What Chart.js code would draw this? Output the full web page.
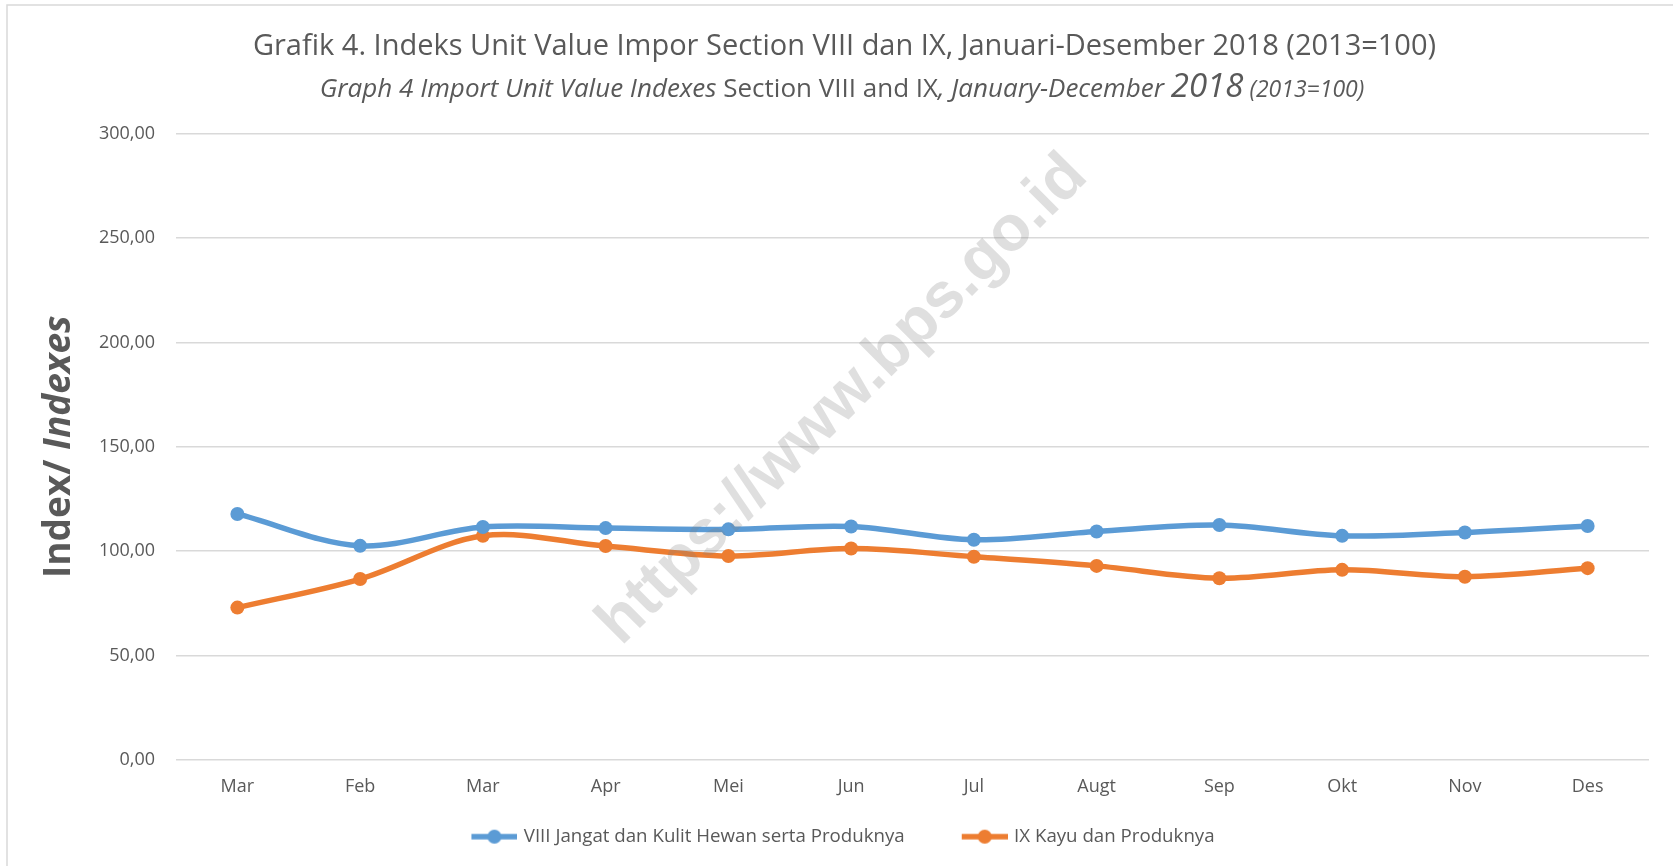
<!DOCTYPE html>
<html lang="id">
<head>
<meta charset="UTF-8">
<title>Grafik 4. Indeks Unit Value Impor Section VIII dan IX</title>
<style>
    html, body { margin: 0; padding: 0; background: #fff; }
    #chartBox { width: 1673px; height: 866px; }
</style>
</head>
<body>
<div id="chartBox">
    <canvas id="importChart" width="1673" height="866"></canvas>
</div>

<script src="https://cdn.jsdelivr.net/npm/chart.js"></script>
<script>
// data
const months = ['Mar', 'Feb', 'Mar', 'Apr', 'Mei', 'Jun', 'Jul', 'Augt', 'Sep', 'Okt', 'Nov', 'Des'];
const section8 = [117.8, 102.5, 111.5, 111.0, 110.4, 111.8, 105.4, 109.4, 112.5, 107.3, 108.9, 112.0];
const section9 = [72.9, 86.6, 107.3, 102.4, 97.6, 101.2, 97.3, 92.9, 87.0, 91.0, 87.7, 91.8];
const seriesNames = ['VIII Jangat dan Kulit Hewan serta Produknya', 'IX Kayu dan Produknya'];
const yTicks = { min: 0, max: 300, step: 50 };

const FONT = "'Open Sans', sans-serif";
const TEXT = '#595959';
const BLUE = '#5B9BD5';
const ORANGE = '#ED7D31';

// legend marker: short line with a dot, like excel (left part kept empty as spacing)
function lineMarker(color) {
    const c = document.createElement('canvas');
    c.width = 92; c.height = 16;
    const g = c.getContext('2d');
    g.strokeStyle = color;
    g.lineWidth = 5.5;
    g.beginPath(); g.moveTo(46, 8); g.lineTo(92, 8); g.stroke();
    g.fillStyle = color;
    g.beginPath(); g.arc(69, 8, 7, 0, Math.PI * 2); g.fill();
    return c;
}
const markers = [lineMarker(BLUE), lineMarker(ORANGE)];

// subtitle has mixed italic / normal parts
const subtitleParts = [
    { text: 'Graph 4 Import Unit Value Indexes', font: 'italic 26px ' + FONT },
    { text: ' Section VIII and IX', font: '26px ' + FONT },
    { text: ', January-December ', font: 'italic 26px ' + FONT },
    { text: '2018', font: 'italic 33px ' + FONT },
    { text: ' (2013=100)', font: 'italic 23px ' + FONT }
];
const yTitleParts = [
    { text: 'Index/ ', font: 'bold 37px ' + FONT },
    { text: 'Indexes', font: 'italic bold 37px ' + FONT }
];

function drawParts(ctx, parts, cx, y) {
    let total = 0;
    parts.forEach(p => { ctx.font = p.font; total += ctx.measureText(p.text).width; });
    let x = cx - total / 2;
    parts.forEach(p => {
        ctx.font = p.font;
        ctx.fillText(p.text, x, y);
        x += ctx.measureText(p.text).width;
    });
}

const decor = {
    id: 'decor',
    afterLayout(chart) {
        // empty part of the first marker pushes the legend right, pull it back
        chart.legend.left -= 23;
        chart.legend.right -= 23;
    },
    beforeDraw(chart) {
        const ctx = chart.ctx;
        ctx.save();
        ctx.fillStyle = '#fff';
        ctx.fillRect(0, 0, chart.width, chart.height);
        ctx.strokeStyle = '#D9D9D9';
        ctx.lineWidth = 1.5;
        ctx.strokeRect(7, 5, chart.width + 50, chart.height + 50);
        ctx.restore();
    },
    afterDraw(chart) {
        const ctx = chart.ctx;
        const area = chart.chartArea;
        ctx.save();
        ctx.fillStyle = TEXT;
        ctx.textBaseline = 'alphabetic';
        drawParts(ctx, subtitleParts, 842, 97);

        // y axis title
        ctx.save();
        ctx.translate(70, (area.top + area.bottom) / 2);
        ctx.rotate(-Math.PI / 2);
        drawParts(ctx, yTitleParts, 0, 0);
        ctx.restore();

        // watermark
        ctx.translate(843, 400);
        ctx.rotate(-45 * Math.PI / 180);
        ctx.font = "bold 64px 'Liberation Sans', Arial, sans-serif";
        ctx.textAlign = 'center';
        ctx.textBaseline = 'middle';
        ctx.fillStyle = 'rgba(128,128,128,0.25)';
        ctx.fillText('https://www.bps.go.id', 0, 0);
        ctx.restore();
    }
};

function makeDataset(label, data, color) {
    return {
        label: label,
        data: data,
        borderColor: color,
        backgroundColor: color,
        borderWidth: 5.5,
        pointRadius: 7,
        pointBorderWidth: 0,
        pointBackgroundColor: color,
        tension: 0.33,
        fill: false
    };
}

new Chart(document.getElementById('importChart'), {
    type: 'line',
    data: {
        labels: months,
        datasets: [
            makeDataset(seriesNames[0], section8, BLUE),
            makeDataset(seriesNames[1], section9, ORANGE)
        ]
    },
    options: {
        responsive: false,
        animation: false,
        devicePixelRatio: 1,
        layout: { padding: { left: 40, right: 24, top: 0, bottom: 10 } },
        plugins: {
            title: {
                display: true,
                text: 'Grafik 4. Indeks Unit Value Impor Section VIII dan IX, Januari-Desember 2018 (2013=100)',
                color: TEXT,
                font: { family: FONT, size: 29, weight: 'normal' },
                padding: { top: 29, bottom: 70 }
            },
            legend: {
                position: 'bottom',
                labels: {
                    color: TEXT,
                    font: { family: FONT, size: 18.7 },
                    usePointStyle: true,
                    pointStyleWidth: 86,
                    padding: 14,
                    generateLabels(chart) {
                        const items = Chart.defaults.plugins.legend.labels.generateLabels(chart);
                        items.forEach((it, i) => { it.pointStyle = markers[i]; });
                        return items;
                    }
                }
            },
            tooltip: { enabled: false }
        },
        scales: {
            x: {
                offset: true,
                grid: { display: false, drawTicks: false },
                border: { display: false },
                ticks: { color: TEXT, font: { family: FONT, size: 18 }, padding: 16 }
            },
            y: {
                min: yTicks.min,
                max: yTicks.max,
                grid: { color: '#D9D9D9', lineWidth: 1.5, drawTicks: false },
                border: { display: false },
                ticks: {
                    stepSize: yTicks.step,
                    color: TEXT,
                    font: { family: FONT, size: 18 },
                    padding: 21,
                    callback: v => v.toFixed(2).replace('.', ',')
                },
                afterFit(scale) { scale.width = 136; }
            }
        }
    },
    plugins: [decor]
});
</script>
</body>
</html>
